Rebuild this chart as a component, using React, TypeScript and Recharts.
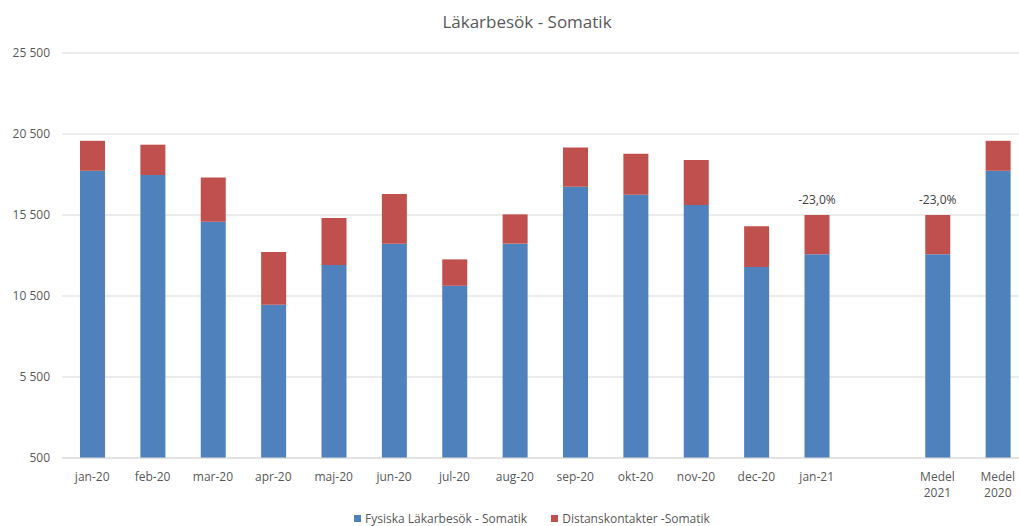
import { BarChart, Bar, XAxis, YAxis, CartesianGrid, LabelList } from "recharts";

const categories = [
  "jan-20", "feb-20", "mar-20", "apr-20", "maj-20", "jun-20", "jul-20",
  "aug-20", "sep-20", "okt-20", "nov-20", "dec-20", "jan-21", "",
  "Medel\n2021", "Medel\n2020",
];
const fysiska = [
  18230, 17970, 15090, 9960, 12410, 13730, 11130, 13730, 17250, 16750,
  16120, 12290, 13070, null, 13070, 18230,
];
const distans = [
  1850, 1870, 2720, 3250, 2900, 3070, 1630, 1810, 2410, 2530, 2780, 2510,
  2430, null, 2430, 1850,
];
const changeLabels = [
  "", "", "", "", "", "", "", "", "", "", "", "", "-23,0%", "", "-23,0%", "",
];
const yTicks = [500, 5500, 10500, 15500, 20500, 25500];

const BLUE = "#4F81BD";
const RED = "#C0504D";
const TEXT = "#595959";
const FONT = "'Open Sans', sans-serif";

const data = categories.map((name, i) => ({
  name,
  fysiska: fysiska[i],
  distans: distans[i],
  change: changeLabels[i],
}));

function fmt(v: number): string {
  return v.toLocaleString("en-US").replace(/,/g, " ");
}

function XTick({ x, y, payload }: any) {
  const lines = String(payload.value).split("\n");
  return (
    <text x={x} y={y + 21} textAnchor="middle" fill={TEXT} fontSize={12} fontFamily={FONT}>
      {lines.map((l, i) => (
        <tspan key={i} x={x} dy={i === 0 ? 0 : 16}>
          {l}
        </tspan>
      ))}
    </text>
  );
}

export default function App() {
  return (
    <div
      style={{
        position: "absolute",
        left: 0,
        top: 0,
        width: 1019,
        height: 526,
        overflow: "hidden",
        background: "#fff",
        fontFamily: FONT,
      }}
    >
      <div
        style={{
          position: "absolute",
          left: 0,
          width: 1054,
          top: 10,
          textAlign: "center",
          fontSize: 17,
          color: TEXT,
        }}
      >
        Läkarbesök - Somatik
      </div>
      <div style={{ position: "absolute", left: 0, top: 0 }}>
        <BarChart
          width={1040}
          height={526}
          data={data}
          margin={{ top: 53, right: 12, left: 0, bottom: 0 }}
          barSize={25}
        >
          <CartesianGrid stroke="#D9D9D9" vertical={false} />
          <XAxis
            dataKey="name"
            interval={0}
            tickLine={false}
            axisLine={{ stroke: "#D9D9D9" }}
            tickSize={0}
            tick={<XTick />}
            height={68}
          />
          <YAxis
            domain={[500, 25500]}
            ticks={yTicks}
            allowDataOverflow
            axisLine={false}
            tickLine={false}
            tickSize={0}
            tickMargin={12}
            width={62}
            tickFormatter={fmt}
            tick={{ fill: TEXT, fontSize: 12, fontFamily: FONT }}
          />
          <Bar dataKey="fysiska" stackId="a" fill={BLUE} isAnimationActive={false} />
          <Bar dataKey="distans" stackId="a" fill={RED} isAnimationActive={false}>
            <LabelList
              dataKey="change"
              position="top"
              offset={11}
              fill="#404040"
              fontSize={12}
              fontFamily={FONT}
            />
          </Bar>
        </BarChart>
      </div>
      <div
        style={{
          position: "absolute",
          top: 510,
          left: 354,
          display: "flex",
          alignItems: "center",
          fontSize: 12,
          color: TEXT,
          whiteSpace: "nowrap",
        }}
      >
        <span style={{ width: 7, height: 7, background: BLUE, marginRight: 4 }} />
        <span>Fysiska Läkarbesök - Somatik</span>
        <span style={{ width: 7, height: 7, background: RED, marginLeft: 24, marginRight: 4 }} />
        <span>Distanskontakter -Somatik</span>
      </div>
    </div>
  );
}
